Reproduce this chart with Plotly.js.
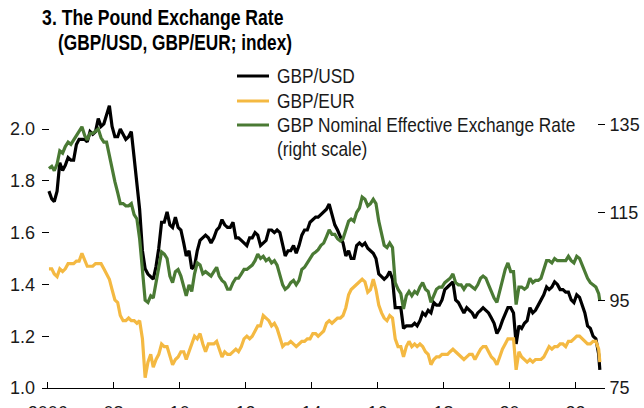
<!DOCTYPE html>
<html><head><meta charset="utf-8">
<script src="https://cdn.plot.ly/plotly-3.0.1.min.js"></script>
<style>html,body{margin:0;padding:0;background:#fff}#chart{width:644px;height:408px}</style>
</head><body><div id="chart"></div>
<script>
// Monthly values, Jan 2006 .. Sep 2022, plus a final late-September 2022 point
const startYear = 2006;
const gbpUsd = [
  1.76,1.73,1.72,1.76,1.87,1.84,1.86,1.89,1.88,1.88,1.94,1.96,
  1.96,1.96,1.95,1.99,1.98,1.99,2.04,2.01,2.02,2.05,2.09,2.01,
  1.97,1.97,2.00,1.98,1.96,1.97,1.99,1.89,1.79,1.69,1.53,1.46,
  1.44,1.43,1.42,1.47,1.54,1.64,1.64,1.68,1.63,1.62,1.66,1.62,
  1.61,1.56,1.51,1.53,1.46,1.47,1.53,1.57,1.58,1.59,1.58,1.56,
  1.58,1.61,1.62,1.65,1.63,1.62,1.62,1.64,1.58,1.58,1.57,1.56,
  1.55,1.58,1.58,1.60,1.59,1.55,1.56,1.57,1.61,1.61,1.60,1.61,
  1.60,1.55,1.51,1.53,1.53,1.55,1.52,1.55,1.59,1.61,1.61,1.64,
  1.65,1.66,1.66,1.67,1.68,1.69,1.71,1.67,1.63,1.61,1.58,1.56,
  1.51,1.53,1.50,1.50,1.55,1.56,1.55,1.56,1.54,1.53,1.52,1.50,
  1.44,1.43,1.42,1.43,1.45,1.42,1.31,1.31,1.31,1.23,1.24,1.24,
  1.24,1.25,1.24,1.26,1.29,1.28,1.30,1.29,1.33,1.32,1.32,1.34,
  1.38,1.39,1.40,1.41,1.34,1.33,1.31,1.29,1.31,1.30,1.29,1.27,
  1.29,1.30,1.31,1.30,1.29,1.27,1.25,1.21,1.23,1.26,1.29,1.31,
  1.31,1.29,1.17,1.24,1.23,1.25,1.26,1.31,1.29,1.30,1.32,1.34,
  1.36,1.39,1.38,1.39,1.41,1.40,1.38,1.38,1.37,1.37,1.34,1.33,
  1.36,1.35,1.32,1.29,1.24,1.23,1.20,1.19,1.13
];
const gbpEur = [
  1.46,1.46,1.44,1.43,1.46,1.45,1.46,1.48,1.48,1.48,1.49,1.49,
  1.52,1.49,1.47,1.47,1.47,1.48,1.48,1.48,1.46,1.44,1.42,1.38,
  1.34,1.33,1.28,1.26,1.26,1.27,1.26,1.26,1.25,1.26,1.19,1.04,
  1.10,1.13,1.08,1.11,1.13,1.17,1.16,1.16,1.12,1.09,1.11,1.12,
  1.14,1.14,1.11,1.14,1.17,1.20,1.19,1.21,1.17,1.14,1.17,1.17,
  1.17,1.18,1.15,1.12,1.14,1.13,1.13,1.14,1.15,1.14,1.16,1.19,
  1.20,1.19,1.20,1.22,1.24,1.24,1.28,1.27,1.26,1.24,1.25,1.23,
  1.19,1.16,1.17,1.17,1.18,1.17,1.16,1.17,1.18,1.18,1.19,1.19,
  1.21,1.21,1.20,1.21,1.22,1.25,1.26,1.25,1.26,1.27,1.27,1.28,
  1.31,1.36,1.38,1.39,1.40,1.41,1.42,1.41,1.37,1.38,1.42,1.38,
  1.32,1.29,1.27,1.26,1.28,1.27,1.19,1.16,1.16,1.12,1.16,1.18,
  1.16,1.17,1.16,1.17,1.16,1.14,1.13,1.09,1.11,1.12,1.12,1.13,
  1.13,1.13,1.14,1.15,1.14,1.13,1.12,1.11,1.12,1.13,1.13,1.11,
  1.13,1.15,1.16,1.16,1.14,1.12,1.11,1.09,1.12,1.15,1.17,1.19,
  1.19,1.19,1.07,1.14,1.12,1.11,1.10,1.11,1.10,1.11,1.11,1.11,
  1.12,1.14,1.16,1.15,1.16,1.16,1.17,1.17,1.16,1.18,1.18,1.19,
  1.20,1.20,1.19,1.18,1.17,1.17,1.18,1.18,1.15
];
const gbpNeer = [
  125,125.5,124.5,126,129,128.5,130,131,130.5,131.5,132.5,133.5,
  134.5,132.5,131.5,133,133,133.5,134,132,131,131,128,124.5,
  122,119.5,117,117,116.5,116.5,117,114.5,113.5,109,101,95,
  94.5,96,95.5,99,102,106,105.5,104.5,100.5,99,101.5,102,
  100.5,98,96,98.5,97,101,103.5,103,101,101.5,101,100.5,
  101.5,102.5,100.5,99.5,99,97.5,97.5,99,100,100,101,102,
  102,102.5,103,104,105.5,104.5,105,104,104.5,103.5,104,103,
  101,98.5,97.5,98,99,99.5,98.5,99.5,102,102.5,103.5,104.5,
  105.5,106,106.5,107.5,108,109.5,111,110,110,109,108.5,109,
  111,113,113.5,113,115,116,118.5,118,116.5,117,118,117,
  113,110,107.5,107,108,107,99,97.5,96.5,93,96,97,
  96,97,96.5,98,99,97.5,97,94.5,96,97.5,98,98,
  99,99.5,100,101,99,98.5,98.5,97.5,98.5,98.5,98,97.5,
  98.5,100,100.5,100,98.5,97,95.5,94.5,97,100,102,103.5,
  101.5,101.5,94,98,98,97.5,98,100,99,99.5,99.5,100,
  102,104,104,103.5,104.5,104,104,104,104,105,104,103.5,
  105,104.5,103,101.5,100,99,98.5,98,96.5
];
const lastDate = '2022-09-28';
const lastUsd = 1.07, lastEur = 1.10, lastNeer = 94.8;

const tickYears = [2006,2008,2010,2012,2014,2016,2018,2020,2022];
const tickLabels = ['2006','08','10','12','14','16','18','20','22'];
const leftTicks = [1.0,1.2,1.4,1.6,1.8,2.0];
const leftLabels = ['1.0','1.2','1.4','1.6','1.8','2.0'];
const rightTicks = [75,95,115,135];
const rightLabels = ['75','95','115','135'];

const names = ['GBP/USD','GBP/EUR','GBP Nominal Effective Exchange Rate'];
const rightNote = '(right scale)';
const colors = ['#000000','#F4B942','#4A7A34'];
const titleLines = ['3. The Pound Exchange Rate', '(GBP/USD, GBP/EUR; index)'];

function monthDates(n){
  const d = [];
  for (let i = 0; i < n; i++){
    const y = startYear + Math.floor(i/12), m = i % 12 + 1;
    d.push(y + '-' + String(m).padStart(2,'0') + '-15');
  }
  return d;
}
const dates = monthDates(gbpUsd.length).concat([lastDate]);

const traces = [
  {x: dates, y: gbpUsd.concat([lastUsd]), name: names[0], yaxis: 'y'},
  {x: dates, y: gbpEur.concat([lastEur]), name: names[1], yaxis: 'y'},
  {x: dates, y: gbpNeer.concat([lastNeer]), name: names[2] + ' ' + rightNote, yaxis: 'y2'}
].map((t, i) => Object.assign(t, {type: 'scatter', mode: 'lines', showlegend: false,
  line: {color: colors[i], width: 3.2}, hoverinfo: 'skip'}));

const W = 644, H = 408, ML = 42, MR = 39, MT = 88, MB = 20;
const PW = W - ML - MR, PH = H - MT - MB;
const px = x => (x - ML) / PW;
const py = y => (H - MB - y) / PH;

const regular = 'Liberation Sans, Arial, sans-serif';
const tickFont = {family: regular, size: 18, color: '#1a1a1a'};
const titleFont = {family: regular, size: 22, color: '#000'};
const legendFont = {family: regular, size: 20, color: '#1a1a1a'};

// legend (drawn as annotations + short line samples)
const legendRows = [76, 101, 125];
const shapes = legendRows.map((yy, i) => ({type: 'line', xref: 'paper', yref: 'paper',
  x0: px(237), x1: px(269), y0: py(yy), y1: py(yy), line: {color: colors[i], width: 3}}));

const annotations = [
  {x: px(40), y: py(18), text: '<b>' + titleLines[0] + '</b>', font: titleFont},
  {x: px(56), y: py(42), text: '<b>' + titleLines[1] + '</b>', font: titleFont},
  {x: px(275), y: py(legendRows[0]), text: names[0], font: legendFont},
  {x: px(275), y: py(legendRows[1]), text: names[1], font: legendFont},
  {x: px(275), y: py(legendRows[2]), text: names[2], font: legendFont},
  {x: px(275), y: py(148.5), text: rightNote, font: legendFont}
].map(a => Object.assign(a, {xref: 'paper', yref: 'paper', xanchor: 'left', yanchor: 'middle', showarrow: false}));
const squeeze = [0.8, 0.785, 0.865, 0.865, 0.865, 0.865];

const layout = {
  width: W, height: H,
  margin: {l: ML, r: MR, t: MT, b: MB, pad: 0},
  paper_bgcolor: '#ffffff', plot_bgcolor: '#ffffff',
  showlegend: false,
  xaxis: {type: 'date', range: ['2005-10-30', '2022-11-24'],
          tickmode: 'array', tickvals: tickYears.map(y => y + '-01-01'), ticktext: tickLabels,
          ticks: 'inside', ticklen: 6, tickwidth: 1, tickcolor: '#000',
          showline: true, linecolor: '#000', linewidth: 1,
          showgrid: false, zeroline: false, tickfont: tickFont, ticklabelstandoff: 8, fixedrange: true},
  yaxis: {range: [1.0, 1.0 + PH / 259], tickmode: 'array', tickvals: leftTicks, ticktext: leftLabels,
          ticks: 'inside', ticklen: 7, tickwidth: 1, tickcolor: '#000',
          showline: false, showgrid: false, zeroline: false, tickfont: tickFont, ticklabelstandoff: 6, fixedrange: true},
  yaxis2: {overlaying: 'y', side: 'right', range: [75, 75 + PH / 4.39],
           tickmode: 'array', tickvals: rightTicks, ticktext: rightLabels.map(s => '\u2009' + s),
           ticks: 'inside', ticklen: 7, tickwidth: 1, tickcolor: '#000',
           showline: false, showgrid: false, zeroline: false, tickfont: tickFont, fixedrange: true},
  shapes: shapes,
  annotations: annotations
};

Plotly.newPlot('chart', traces, layout, {staticPlot: true, displayModeBar: false}).then(() => {
  document.querySelectorAll('#chart .annotation').forEach((g, i) => {
    const t = g.querySelector('text');
    if (!t) return;
    t.style.transformBox = 'fill-box';
    t.style.transformOrigin = '0% 50%';
    t.style.transform = 'scaleX(' + squeeze[i] + ')';
  });
});
</script>
</body></html>
